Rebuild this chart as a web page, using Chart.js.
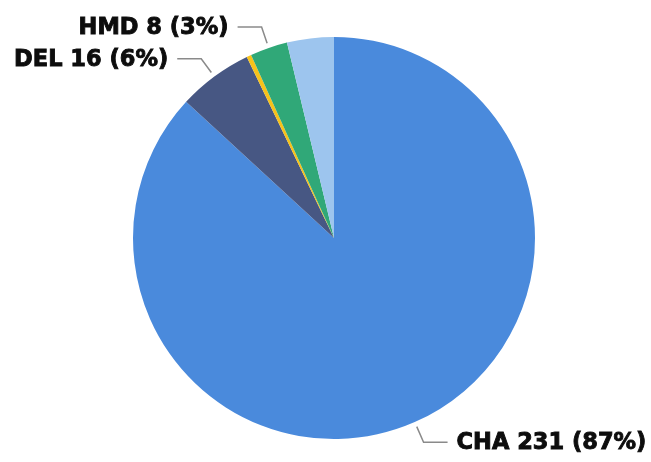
<!DOCTYPE html>
<html>
<head>
<meta charset="utf-8">
<script src="https://cdn.jsdelivr.net/npm/chart.js@4"></script>
<style>
  html, body { margin: 0; padding: 0; background: #fff; }
  #wrap { width: 651px; height: 462px; }
</style>
</head>
<body>
<div id="wrap"><canvas id="pie"></canvas></div>
<script>
// slices, clockwise from 12 o'clock; the two unnamed ones have no label in the picture
const categories = ['CHA', 'DEL', '', 'HMD', ''];
const counts = [231, 16, 1, 8, 10];
const colors = ['#4A8ADC', '#475783', '#F7C21A', '#30A878', '#9DC5EE'];

const total = counts.reduce((a, b) => a + b, 0);

// ====================================leader labels
const leaderLabels = {
    id: 'leaderLabels',
    afterDatasetsDraw(chart) {
        const ctx = chart.ctx;
        const meta = chart.getDatasetMeta(0);
        ctx.save();
        ctx.font = 'bold 22.5px "DejaVu Sans"';
        ctx.textBaseline = 'middle';
        meta.data.forEach((arc, i) => {
            if (!categories[i]) return;
            const mid = (arc.startAngle + arc.endAngle) / 2;
            const r = arc.outerRadius;
            const cos = Math.cos(mid), sin = Math.sin(mid);
            const x0 = arc.x + cos * (r + 5), y0 = arc.y + sin * (r + 5);
            const x1 = arc.x + cos * (r + 22), y1 = arc.y + sin * (r + 22);
            const right = cos >= 0;
            const x2 = x1 + (right ? 24 : -24);

            ctx.strokeStyle = '#8a8a8a';
            ctx.lineWidth = 1.5;
            ctx.beginPath();
            ctx.moveTo(x0, y0);
            ctx.lineTo(x1, y1);
            ctx.lineTo(x2, y1);
            ctx.stroke();

            const pct = Math.round(counts[i] / total * 100);
            const text = `${categories[i]} ${counts[i]} (${pct}%)`;
            const tx = x2 + (right ? 9 : -9);
            ctx.fillStyle = '#0d0d0d';
            ctx.strokeStyle = '#0d0d0d';
            ctx.lineWidth = 0.9;
            ctx.textAlign = right ? 'left' : 'right';
            ctx.fillText(text, tx, y1 + 1);
            ctx.strokeText(text, tx, y1 + 1);
        });
        ctx.restore();
    }
};

const myChart = new Chart(document.querySelector('#pie'), {
    type: 'pie',
    data: {
        labels: categories,
        datasets: [{
            data: counts,
            backgroundColor: colors,
            borderWidth: 0
        }]
    },
    options: {
        responsive: true,
        maintainAspectRatio: false,
        animation: false,
        layout: { padding: { top: 37, bottom: 23, left: 17, right: 0 } },
        plugins: {
            legend: { display: false },
            tooltip: { enabled: false }
        }
    },
    plugins: [leaderLabels]
});
</script>
</body>
</html>
